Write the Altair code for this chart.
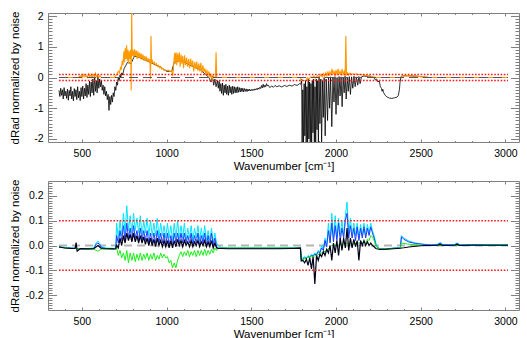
import altair as alt
import pandas as pd

# ---------------- data ----------------
# Top panel, black spectrum (segments concatenated below)
TB_WN_A = [365, 370, 375, 380, 385, 390, 395, 400, 405, 410, 415, 420, 425, 430, 435, 440, 445, 450, 455, 460,
           465, 470, 475, 480, 485, 490, 495, 500, 505, 510, 515, 520, 525, 530, 535, 540, 545, 550, 555, 560,
           565, 570, 575, 580, 585, 590, 595, 600, 605, 610, 615, 620, 625, 630, 635, 640, 645, 650, 655, 660,
           665, 670, 675, 680, 685, 690, 695, 700, 705, 710, 715, 720, 725, 730, 735, 740]
TB_VAL_A = [-0.42, -0.62, -0.35, -0.58, -0.4, -0.7, -0.33, -0.6, -0.45, -0.68, -0.38, -0.74, -0.42, -0.6, -0.3,
            -0.7, -0.45, -0.76, -0.36, -0.62, -0.4, -0.72, -0.3, -0.66, -0.45, -0.75, -0.33, -0.62, -0.28, -0.7,
            -0.35, -0.6, -0.2, -0.65, -0.25, -0.55, -0.12, -0.62, -0.15, -0.5, -0.05, -0.58, 0.08, -0.45, -0.1,
            -0.5, 0.05, -0.35, -0.05, -0.3, -0.1, -0.42, -0.25, -0.55, -0.3, -0.6, -0.45, -0.72, -0.55, -1.07,
            -0.62, -0.88, -0.58, -0.8, -0.5, -0.62, -0.3, -0.42, -0.15, -0.25, 0.0, -0.1, 0.08, 0.0, 0.15, 0.08]
TB_WN_B = [750, 770, 790, 810, 840, 880, 920, 960, 1000, 1030, 1045, 1080, 1120, 1160, 1200, 1230, 1250, 1262,
           1270, 1278, 1285, 1292, 1300]
TB_VAL_B = [0.3, 0.5, 0.45, 0.7, 0.65, 0.55, 0.45, 0.35, 0.2, 0.2, 0.5, 0.55, 0.45, 0.35, 0.25, 0.1, 0.0, -0.15,
            0.05, -0.25, -0.05, -0.3, -0.1]
TB_WN_C = [1305, 1310, 1315, 1320, 1325, 1330, 1335, 1340, 1345, 1350, 1355, 1360, 1365, 1370, 1375, 1380, 1385,
           1390, 1395, 1400, 1405, 1410, 1415, 1420, 1425, 1430, 1435, 1440, 1445, 1450, 1455, 1460, 1465, 1470,
           1475, 1480, 1485, 1490, 1495, 1500, 1505, 1510, 1515, 1520, 1525, 1530, 1535, 1540, 1545, 1550, 1555,
           1560, 1565, 1570, 1575, 1580, 1585, 1590, 1595]
TB_VAL_C = [-0.35, -0.12, -0.45, -0.2, -0.52, -0.18, -0.58, -0.25, -0.5, -0.22, -0.55, -0.28, -0.58, -0.25, -0.5,
            -0.3, -0.55, -0.28, -0.52, -0.3, -0.5, -0.32, -0.5, -0.3, -0.48, -0.33, -0.47, -0.34, -0.46, -0.35,
            -0.47, -0.36, -0.45, -0.37, -0.46, -0.38, -0.44, -0.38, -0.44, -0.39, -0.43, -0.38, -0.42, -0.37, -0.41,
            -0.36, -0.4, -0.34, -0.38, -0.32, -0.36, -0.26, -0.34, -0.22, -0.32, -0.25, -0.3, -0.2, -0.28]
TB_WN_D = [1600, 1610, 1620, 1630, 1640, 1650, 1665, 1680, 1695, 1710, 1725, 1740, 1755, 1770, 1785, 1793]
TB_VAL_D = [-0.25, -0.33, -0.27, -0.32, -0.26, -0.3, -0.27, -0.31, -0.26, -0.29, -0.25, -0.28, -0.23, -0.26, -0.2, -0.22]
TB_WN_E = [1797, 1800, 1804, 1808, 1812, 1816, 1820, 1824, 1828, 1832, 1836, 1840, 1844, 1848, 1852, 1856, 1860,
           1864, 1868, 1872, 1876, 1880, 1884, 1888, 1892, 1896, 1900, 1905, 1910, 1915, 1920, 1925, 1930, 1936, 1942]
TB_VAL_E = [-0.05, -2.3, -0.4, -2.3, -0.2, -1.9, -0.1, -2.3, -0.3, -2.3, -0.05, -2.0, -0.15, -2.3, -0.2, -2.3, -0.1,
            -1.8, -0.05, -2.3, -0.3, -2.3, -0.05, -1.7, -0.1, -2.3, -0.02, -1.5, -0.05, -2.2, -0.1, -1.3, 0.0, -1.9, -0.05]
TB_WN_F = [1950, 1956, 1962, 1968, 1975, 1982, 1988, 1994, 2000, 2006, 2012, 2018, 2024, 2030, 2036, 2042, 2048,
           2054, 2060, 2066, 2072, 2078, 2085, 2092, 2099, 2106, 2113, 2120, 2128, 2135, 2142, 2150]
TB_VAL_F = [-1.4, 0.0, -1.0, 0.02, -1.6, 0.0, -0.8, 0.03, -1.2, 0.0, -0.9, 0.03, -0.6, 0.02, -0.95, 0.0, -0.5, 0.04,
            -0.7, 0.0, -0.45, 0.03, -0.55, 0.02, -0.35, 0.04, -0.3, 0.02, -0.25, 0.03, -0.2, 0.02]
TB_WN_G = [2165, 2180, 2195, 2210, 2225, 2232, 2240, 2248, 2255, 2262, 2268, 2272, 2276, 2280, 2290, 2300, 2315,
           2330, 2345, 2360, 2368, 2374, 2378, 2383, 2390, 2420, 2450, 2480, 2510, 2550, 2700, 2850, 3015]
TB_VAL_G = [0.05, 0.03, 0.05, 0.02, 0.0, -0.08, -0.05, -0.15, -0.1, -0.3, -0.35, -0.45, -0.38, -0.48, -0.58, -0.63,
            -0.67, -0.68, -0.66, -0.64, -0.58, -0.4, -0.15, 0.02, 0.05, 0.06, 0.05, 0.04, 0.02, 0.0, 0.0, 0.0, 0.0]

# Top panel, orange spectrum
TO_WN_1 = [365, 480, 490, 495, 500, 505, 512, 518, 525, 532, 540, 546, 553, 560, 567, 574, 580, 586, 593, 600, 607, 613]
TO_VAL_1 = [0.0, 0.0, 0.05, 0.0, 0.08, 0.01, 0.1, 0.02, 0.06, 0.0, 0.12, 0.02, 0.08, 0.0, 0.1, 0.02, 0.14, 0.03,
            0.08, 0.01, 0.06, 0.0]
TO_WN_2 = [690, 700, 708, 715, 722, 728, 733, 738, 743, 748, 752, 756, 760, 764, 768, 772, 776, 780, 784, 788,
           791, 794, 797, 801, 806, 811, 816, 821, 826, 831, 836, 841, 846, 851, 856, 861, 866, 871, 876, 881,
           886, 891, 896, 901, 905, 908, 911, 916, 922, 928, 934, 940, 946, 952, 958, 964, 970, 976, 982, 990,
           1000, 1010, 1020, 1030, 1036, 1040, 1044, 1048, 1052, 1056, 1060, 1065, 1070, 1075, 1080, 1085, 1090,
           1095, 1100, 1106, 1112, 1118, 1124, 1130, 1136, 1142, 1148, 1154, 1160, 1166, 1172, 1178, 1184, 1190,
           1196, 1202, 1208, 1214, 1220, 1226, 1232, 1238, 1244, 1250, 1256, 1262, 1268, 1275, 1282, 1288, 1292, 1296]
TO_VAL_2 = [0.0, 0.05, 0.12, 0.2, 0.15, 0.35, 0.25, 0.55, 0.4, 0.85, 0.5, 0.95, 0.6, 1.05, 0.55, 0.9, 0.45, 0.85,
            0.6, 0.9, -0.42, 2.2, 0.7, 0.9, 0.65, 0.92, 0.7, 0.88, 0.6, 0.85, 0.65, 0.8, 0.6, 0.78, 0.58, 0.75, 0.55,
            0.7, 0.55, 0.68, 0.52, 0.62, 0.5, 0.6, -0.05, 1.35, 0.45, 0.55, 0.45, 0.5, 0.4, 0.45, 0.36, 0.4, 0.32,
            0.36, 0.28, 0.3, 0.24, 0.25, 0.22, 0.24, 0.2, 0.22, 0.05, 0.25, 0.6, 0.8, 0.45, 0.82, 0.4, 0.78, 0.5,
            0.82, 0.35, 0.75, 0.45, 0.7, 0.3, 0.72, 0.4, 0.65, 0.35, 0.6, 0.3, 0.62, 0.35, 0.55, 0.2, 0.5, 0.28,
            0.52, 0.22, 0.45, 0.2, 0.48, 0.15, 0.4, 0.18, 0.3, 0.1, 0.25, 0.05, 0.2, 0.0, 0.1, -0.05, 0.05, 0.0,
            0.0, 0.82, 0.0]
TO_WN_3 = [1300, 1790, 1795, 1825, 1830, 1840, 1850, 1860, 1870, 1880, 1890, 1900, 1910, 1918, 1925, 1932, 1940,
           1946, 1952, 1958, 1964, 1970, 1976, 1982, 1988, 1994, 2000, 2006, 2012, 2018, 2024, 2030, 2036, 2042,
           2048, 2054, 2058, 2062, 2068, 2075, 2082, 2090, 2100, 2110, 2120, 2130, 2140, 2160, 2180, 2200, 2220,
           2240, 2380, 2390, 2420, 2460, 2500, 2540, 2600, 3015]
TO_VAL_3 = [0.0, 0.0, -0.1, -0.1, 0.0, -0.05, 0.02, 0.0, 0.05, -0.02, 0.06, 0.0, 0.1, 0.02, 0.12, 0.03, 0.15, 0.05,
            0.2, 0.05, 0.18, 0.08, 0.28, 0.1, 0.22, 0.05, 0.25, 0.08, 0.28, 0.1, 0.2, 0.08, 0.27, 0.1, 0.2, 0.05,
            1.35, 0.1, 0.15, 0.08, 0.14, 0.1, 0.12, 0.1, 0.12, 0.1, 0.1, 0.08, 0.06, 0.05, 0.02, 0.0, 0.0, 0.05,
            0.06, 0.05, 0.03, 0.01, 0.0, 0.0]

# Bottom panel: shared wavenumber segments for cyan, blue and black
B_WN_1 = [365, 400, 440, 460, 466, 472, 490, 540, 570, 585, 595, 605, 615, 640, 690, 700]
B_WN_2 = [705, 715, 725, 735, 745, 755, 765, 775, 785, 795, 805, 815, 825, 835, 845, 855, 865, 875, 885, 895,
          905, 915, 925, 935, 945, 955, 965, 975, 985, 995, 1005, 1015, 1025, 1035, 1045, 1055, 1065, 1075, 1085,
          1095, 1105, 1115, 1125, 1135, 1145, 1155, 1165, 1175, 1185, 1195, 1205, 1215, 1225, 1235, 1245, 1255,
          1265, 1275, 1285, 1295, 1305]
B_WN_3 = [1320, 1360, 1450, 1550, 1650, 1750, 1790]
B_WN_4 = [1795, 1805, 1815, 1825, 1835, 1845, 1855, 1865, 1875, 1885, 1895, 1905, 1915, 1925, 1935, 1945, 1955,
          1965, 1975, 1985, 1995, 2005, 2015, 2025, 2035, 2045, 2055, 2065, 2075, 2085, 2095, 2105, 2115, 2125,
          2135, 2145, 2155, 2165, 2175, 2185, 2195, 2205, 2215, 2225, 2235]
B_WN_5 = [2245, 2260, 2300, 2340, 2380, 2386, 2400, 2430, 2470, 2520, 2560, 2600, 2615, 2630, 2700, 2715, 2730,
          2800, 2900, 3015]

CYAN_1 = [-0.005, -0.008, -0.01, -0.01, -0.005, -0.012, -0.012, -0.012, -0.01, 0.012, 0.018, 0.008, -0.005, -0.01,
          -0.012, -0.01]
CYAN_2 = [0.09, 0.03, 0.10, 0.04, 0.13, 0.05, 0.16, 0.06, 0.12, 0.05, 0.13, 0.06, 0.11, 0.05, 0.12, 0.04, 0.10,
          0.05, 0.11, 0.04, 0.10, 0.04, 0.09, 0.04, 0.11, 0.03, 0.09, 0.04, 0.08, 0.03, 0.09, 0.03, 0.08, 0.02,
          0.09, 0.03, 0.10, 0.03, 0.08, 0.03, 0.09, 0.02, 0.07, 0.03, 0.08, 0.02, 0.07, 0.03, 0.08, 0.02, 0.07,
          0.02, 0.08, 0.02, 0.06, 0.02, 0.07, 0.01, 0.05, 0.01, 0.0]
CYAN_3 = [-0.008, -0.01, -0.01, -0.01, -0.01, -0.009, -0.008]
CYAN_4 = [-0.055, -0.05, -0.045, -0.05, -0.04, -0.045, -0.035, -0.04, -0.03, -0.035, -0.02, -0.025, 0.0, -0.015,
          0.03, 0.0, 0.09, 0.02, 0.13, 0.03, 0.12, 0.03, 0.11, 0.04, 0.10, 0.04, 0.12, 0.175, 0.05, 0.11, 0.04,
          0.09, 0.04, 0.09, 0.03, 0.085, 0.04, 0.09, 0.04, 0.085, 0.05, 0.09, 0.06, 0.04, 0.01]
CYAN_5 = [-0.005, -0.014, -0.013, -0.01, -0.008, 0.04, 0.03, 0.018, 0.01, 0.005, 0.003, 0.005, 0.012, 0.004,
          0.004, 0.01, 0.003, 0.004, 0.003, 0.003]

BLUE_1 = [-0.006, -0.009, -0.011, -0.011, -0.008, -0.013, -0.013, -0.013, -0.012, 0.006, 0.01, 0.004, -0.008,
          -0.012, -0.013, -0.012]
BLUE_2 = [0.04, 0.01, 0.06, 0.02, 0.08, 0.02, 0.09, 0.03, 0.07, 0.02, 0.08, 0.03, 0.06, 0.02, 0.07, 0.02, 0.06,
          0.02, 0.06, 0.01, 0.05, 0.01, 0.05, 0.01, 0.06, 0.01, 0.05, 0.01, 0.05, 0.0, 0.05, 0.0, 0.04, 0.0, 0.05,
          0.01, 0.05, 0.01, 0.05, 0.01, 0.05, 0.01, 0.04, 0.01, 0.05, 0.0, 0.04, 0.01, 0.05, 0.0, 0.04, 0.01, 0.05,
          0.0, 0.04, 0.0, 0.05, 0.0, 0.03, -0.005, -0.01]
BLUE_3 = [-0.01, -0.011, -0.011, -0.011, -0.011, -0.01, -0.009]
BLUE_4 = [-0.06, -0.055, -0.05, -0.052, -0.045, -0.048, -0.04, -0.042, -0.035, -0.038, -0.025, -0.03, -0.01, -0.02,
          0.02, -0.005, 0.06, 0.01, 0.09, 0.015, 0.08, 0.02, 0.09, 0.02, 0.07, 0.03, 0.10, 0.13, 0.03, 0.08, 0.03,
          0.07, 0.02, 0.075, 0.02, 0.07, 0.03, 0.075, 0.03, 0.07, 0.04, 0.075, 0.05, 0.03, 0.0]
BLUE_5 = [-0.008, -0.015, -0.014, -0.011, -0.009, 0.035, 0.025, 0.014, 0.008, 0.004, 0.002, 0.004, 0.009, 0.003,
          0.003, 0.008, 0.002, 0.003, 0.002, 0.002]

BLACK_1 = [-0.006, -0.01, -0.012, -0.012, 0.012, -0.023, -0.013, -0.014, -0.013, -0.005, 0.0, -0.006, -0.012,
           -0.013, -0.014, -0.013]
BLACK_2 = [0.0, -0.01, 0.03, 0.0, 0.04, 0.01, 0.05, 0.02, 0.045, 0.015, 0.05, 0.015, 0.04, 0.01, 0.04, 0.01,
           0.035, 0.005, 0.03, 0.0, 0.03, 0.0, 0.025, -0.005, 0.03, 0.0, 0.02, -0.005, 0.02, -0.005, 0.02, -0.01,
           0.02, -0.01, 0.02, -0.005, 0.025, 0.0, 0.02, -0.005, 0.02, 0.0, 0.015, -0.005, 0.02, -0.005, 0.015, 0.0,
           0.02, -0.005, 0.015, 0.0, 0.02, -0.005, 0.015, -0.005, 0.02, -0.01, 0.01, -0.01, -0.012]
BLACK_3 = [-0.012, -0.013, -0.013, -0.013, -0.013, -0.012, -0.011]
BLACK_4 = [-0.062, -0.06, -0.07, -0.055, -0.08, -0.05, -0.094, -0.045, -0.155, -0.04, -0.06, -0.035, -0.045,
           -0.025, -0.04, -0.015, -0.03, 0.0, -0.06, 0.01, -0.03, 0.02, -0.04, 0.03, -0.02, 0.03, -0.01, 0.07,
           -0.02, 0.03, -0.01, 0.025, -0.005, 0.02, -0.06, 0.02, 0.0, 0.02, 0.0, 0.015, 0.0, 0.01, 0.0, -0.005, -0.012]
BLACK_5 = [-0.014, -0.016, -0.015, -0.013, -0.011, -0.01, -0.009, -0.006, -0.003, 0.0, 0.0, 0.001, 0.004, 0.0,
           0.001, 0.004, 0.0, 0.001, 0.001, 0.001]

GREEN_WN_1 = [365, 440, 570, 595, 615, 700]
GREEN_1 = [-0.007, -0.012, -0.015, -0.023, -0.014, -0.014]
GREEN_2 = [-0.01, -0.04, -0.02, -0.05, -0.03, -0.06, -0.02, -0.07, -0.03, -0.06, -0.03, -0.065, -0.035, -0.06,
           -0.03, -0.06, -0.035, -0.055, -0.03, -0.06, -0.035, -0.055, -0.03, -0.06, -0.04, -0.055, -0.03, -0.05,
           -0.035, -0.05, -0.045, -0.07, -0.06, -0.09, -0.07, -0.09, -0.06, -0.04, -0.025, -0.045, -0.025, -0.04,
           -0.02, -0.045, -0.025, -0.04, -0.02, -0.045, -0.02, -0.04, -0.02, -0.04, -0.015, -0.04, -0.02, -0.035,
           -0.015, -0.03, -0.01, -0.02, -0.01]
GREEN_WN_3 = [1320, 1790]
GREEN_3 = [-0.01, -0.01]
GREEN_WN_4 = [1795, 1825, 1855, 1885, 1915, 1945, 1975, 2005, 2035, 2065, 2095, 2125, 2155, 2165, 2175, 2185,
              2195, 2205, 2215, 2225, 2235]
GREEN_4 = [-0.06, -0.05, -0.045, -0.04, -0.03, -0.02, 0.0, 0.0, 0.005, 0.01, 0.005, 0.01, 0.01, 0.015, 0.01,
           0.025, 0.02, 0.04, 0.035, 0.02, 0.0]
GREEN_WN_5 = [2245, 2260, 2380, 2386, 2420, 2480, 2540, 3015]
GREEN_5 = [-0.01, -0.015, -0.01, 0.01, 0.006, 0.002, 0.0, 0.001]

# reference lines (span of the data)
REF_WN = [365, 3015]
ZERO_LEVEL = [0.0]
NOISE_LEVELS = [0.1, -0.1]

# axis ticks
X_MAJOR = [500, 1000, 1500, 2000, 2500, 3000]
X_MINOR = [v for v in range(400, 3001, 100) if v % 500]
TOP_Y_MAJOR = [-2, -1, 0, 1, 2]
TOP_Y_MINOR = [round(i * 0.1, 2) for i in range(-20, 21) if i % 10]
BOT_Y_MAJOR = [-0.2, -0.1, 0.0, 0.1, 0.2]
BOT_Y_MINOR = [round(i * 0.01, 3) for i in range(-25, 26) if i % 10]

# ---------------- chart ----------------
W, H = 471, 129
XDOM = [300, 3080]
TOP_DOM = [-2.1, 2.1]
BOT_DOM = [-0.26, 0.26]
FONT = "Liberation Sans"
GRAY = "#808080"


def df_of(wn, val):
    assert len(wn) == len(val)
    return pd.DataFrame({"wn": wn, "val": val, "k": list(range(len(wn)))})


def ref_df(levels):
    rows = []
    for j, lv in enumerate(levels):
        for i, w in enumerate(REF_WN):
            rows.append({"wn": w, "val": lv, "k": i, "g": j})
    return pd.DataFrame(rows)


def xenc(axis=None):
    return alt.X("wn:Q", scale=alt.Scale(domain=XDOM, nice=False, zero=False), axis=axis)


def yenc(dom, axis=None):
    return alt.Y("val:Q", scale=alt.Scale(domain=dom, nice=False, zero=False), axis=axis)


def series(df, dom, color, width, dash=None):
    kw = dict(color=color, strokeWidth=width, clip=True)
    if dash:
        kw["strokeDash"] = dash
    enc = dict(x=xenc(), y=yenc(dom), order="k:Q")
    if "g" in df.columns:
        enc["detail"] = "g:N"
    return alt.Chart(df).mark_line(**kw).encode(**enc)


def tick_axis(orient, values, size, offset):
    return alt.Axis(orient=orient, values=values, tickSize=size, offset=offset, labels=False,
                    domain=False, grid=False, ticks=True, tickColor=GRAY, tickWidth=1, title=None)


def axis_layers(dom, ymaj, ymin, yfmt):
    dummy = ref_df(ZERO_LEVEL)
    fmt_expr = "replace(format(datum.value, '%s'), '\u2212', '-')" % yfmt
    xlab = alt.Axis(orient="bottom", values=X_MAJOR, format="d", ticks=False, labelPadding=6, domain=False,
                    grid=False, labelFlush=False, labelFont=FONT, labelFontSize=10.5, labelColor="black",
                    title="Wavenumber [cm\u207b\u00b9]", titleFont=FONT, titleFontSize=11.5,
                    titleFontWeight="normal", titleColor="black", titleY=27, titleBaseline="alphabetic")
    ylab = alt.Axis(orient="left", values=ymaj, labelExpr=fmt_expr, ticks=False, labelPadding=5, domain=False,
                    grid=False, labelFlush=False, labelFont=FONT, labelFontSize=10.5, labelColor="black",
                    title="dRad normalized by noise", titleFont=FONT, titleFontSize=11.5,
                    titleFontWeight="normal", titleColor="black", titleAngle=270, titleAlign="center",
                    titleBaseline="alphabetic", titleX=-30, titleY=H / 2)
    specs = [
        (xlab, ylab),
        (tick_axis("top", X_MAJOR, 3, -H), tick_axis("right", ymaj, 8.5, -W)),
        (tick_axis("top", X_MINOR, 1.5, -H), tick_axis("right", ymin, 4, -W)),
        (tick_axis("bottom", X_MAJOR, 3, -H), tick_axis("left", ymaj, 8.5, -W)),
        (tick_axis("bottom", X_MINOR, 1.5, -H), tick_axis("left", ymin, 4, -W)),
    ]
    out = []
    for xa, ya in specs:
        out.append(alt.Chart(dummy).mark_line(opacity=0).encode(x=xenc(xa), y=yenc(dom, ya), order="k:Q"))
    return out


top_black = df_of(TB_WN_A + TB_WN_B + TB_WN_C + TB_WN_D + TB_WN_E + TB_WN_F + TB_WN_G,
                  TB_VAL_A + TB_VAL_B + TB_VAL_C + TB_VAL_D + TB_VAL_E + TB_VAL_F + TB_VAL_G)
top_orange = df_of(TO_WN_1 + TO_WN_2 + TO_WN_3, TO_VAL_1 + TO_VAL_2 + TO_VAL_3)

top = alt.layer(
    *axis_layers(TOP_DOM, TOP_Y_MAJOR, TOP_Y_MINOR, "d"),
    series(top_black, TOP_DOM, "#000000", 0.8),
    series(top_orange, TOP_DOM, "#ff9900", 1.1),
    series(ref_df(ZERO_LEVEL), TOP_DOM, "#555555", 1, [9, 5]),
    series(ref_df(NOISE_LEVELS), TOP_DOM, "#ff1a1a", 1.4, [1.6, 1.6]),
).resolve_axis(x="independent", y="independent").properties(width=W, height=H)

BWN = B_WN_1 + B_WN_2 + B_WN_3 + B_WN_4 + B_WN_5
bot_cyan = df_of(BWN, CYAN_1 + CYAN_2 + CYAN_3 + CYAN_4 + CYAN_5)
bot_blue = df_of(BWN, BLUE_1 + BLUE_2 + BLUE_3 + BLUE_4 + BLUE_5)
bot_black = df_of(BWN, BLACK_1 + BLACK_2 + BLACK_3 + BLACK_4 + BLACK_5)
bot_green = df_of(GREEN_WN_1 + B_WN_2 + GREEN_WN_3 + GREEN_WN_4 + GREEN_WN_5,
                  GREEN_1 + GREEN_2 + GREEN_3 + GREEN_4 + GREEN_5)

bottom = alt.layer(
    *axis_layers(BOT_DOM, BOT_Y_MAJOR, BOT_Y_MINOR, ".1f"),
    series(ref_df(ZERO_LEVEL), BOT_DOM, "#b4b4b4", 2.2, [8, 5]),
    series(bot_cyan, BOT_DOM, "#00e5ff", 1),
    series(bot_blue, BOT_DOM, "#1f3dff", 1),
    series(bot_green, BOT_DOM, "#1aee1a", 1),
    series(bot_black, BOT_DOM, "#000018", 1.2),
    series(ref_df(NOISE_LEVELS), BOT_DOM, "#ff1a1a", 1.4, [1.6, 1.6]),
).resolve_axis(x="independent", y="independent").properties(width=W, height=H)

chart = alt.vconcat(top, bottom, spacing=6).properties(
    padding={"left": 8, "top": 10, "right": 5, "bottom": 0}
).configure_view(stroke=GRAY, strokeWidth=1)

chart.save("out.html", embed_options={"renderer": "svg", "actions": False})
